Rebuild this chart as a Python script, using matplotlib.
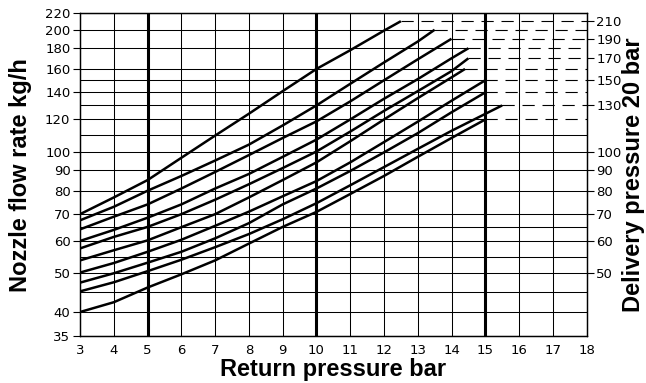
import matplotlib

matplotlib.use("Agg")

import matplotlib.pyplot as plt
from matplotlib.ticker import FixedLocator, NullLocator

# return pressure (bar) at each reading, and nozzle flow rate (kg/h) per curve
x_pts = [3, 4, 5, 6, 7, 8, 9, 10, 11, 12, 13, 14]
curves = [
    [70.0, 77.0, 85.0, 96.5, 109.5, 124.0, 141.0, 160.0, 178.0, 199.0],
    [67.6, 73.0, 80.0, 87.0, 95.0, 104.0, 116.0, 130.0, 147.0, 166.0, 187.0],
    [64.2, 69.0, 74.0, 81.0, 89.0, 98.0, 108.0, 118.7, 133.0, 150.0, 169.0],
    [60.1, 64.0, 68.6, 74.0, 81.0, 88.0, 97.0, 107.0, 120.0, 135.0, 151.0, 170.0],
    [57.6, 61.5, 65.1, 70.0, 76.0, 83.0, 91.0, 100.0, 112.0, 126.0, 141.0, 158.0],
    [53.8, 57.0, 60.3, 65.0, 70.0, 77.0, 85.0, 94.0, 106.0, 120.0, 135.5, 152.5],
    [50.2, 53.0, 56.5, 60.5, 65.5, 71.0, 77.5, 84.5, 94.0, 105.5, 118.5, 133.5],
    [47.4, 50.0, 53.1, 56.5, 61.0, 66.5, 74.0, 81.0, 89.5, 99.5, 111.0, 125.0],
    [45.1, 47.5, 50.6, 54.0, 58.0, 62.5, 68.0, 74.5, 82.5, 91.5, 101.5, 112.5],
    [40.1, 42.4, 46.1, 49.7, 53.8, 59.2, 65.1, 70.9, 78.5, 87.0, 97.0, 108.0],
]
# end point of each curve (x, flow) -> carried dashed to the right axis
end_x = [12.5, 13.5, 14.0, 14.5, 14.5, 14.4, 15.0, 15.0, 15.5, 15.0]
end_y = [210, 200, 190, 180, 170, 160, 150, 140, 130, 120]

left_ticks = [35, 40, 50, 60, 70, 80, 90, 100, 120, 140, 160, 180, 200, 220]
right_ticks = [50, 60, 70, 80, 90, 100, 130, 150, 170, 190, 210]
grid_y = [35, 40, 45, 50, 55, 60, 65, 70, 80, 90, 100, 110, 120, 130, 140,
          150, 160, 180, 200, 220]

fig, ax = plt.subplots(figsize=(6.46, 3.83), dpi=100)
fig.subplots_adjust(left=0.124, right=0.908, top=0.966, bottom=0.123)
ax.set_yscale("log")
ax.set_xlim(3, 18)
ax.set_ylim(35, 220)

# horizontal grid; a curve end takes over with a dashed line to the right
for g in grid_y:
    stop = 18
    if g in end_y:
        stop = end_x[end_y.index(g)]
    ax.plot([3, stop], [g, g], color="black", lw=0.75, zorder=1)

for xv in range(4, 18):
    lw = 2.2 if xv in (5, 10, 15) else 0.75
    ax.axvline(xv, color="black", lw=lw, zorder=1)

for ys, ex, ey in zip(curves, end_x, end_y):
    xs = [x for x in x_pts[:len(ys)] if x < ex] + [ex]
    ax.plot(xs, ys[:len(xs) - 1] + [ey], color="black", lw=1.8,
            solid_capstyle="butt", zorder=3)
    ax.plot([ex, 18], [ey, ey], color="black", lw=0.8, dashes=(11, 7), zorder=2)

tick_font = dict(family="DejaVu Sans", size=9.5)
ax.xaxis.set_major_locator(FixedLocator(range(3, 19)))
ax.set_xticklabels([str(v) for v in range(3, 19)], **tick_font)
ax.yaxis.set_major_locator(FixedLocator(left_ticks))
ax.yaxis.set_minor_locator(NullLocator())
ax.set_yticklabels([str(v) for v in left_ticks], **tick_font)
ax.tick_params(axis="y", length=5, width=0.8, pad=2)
ax.tick_params(axis="x", length=0, pad=6)

ax2 = ax.twinx()
ax2.set_yscale("log")
ax2.set_ylim(35, 220)
ax2.yaxis.set_major_locator(FixedLocator(right_ticks))
ax2.yaxis.set_minor_locator(NullLocator())
ax2.set_yticklabels([str(v) for v in right_ticks], **tick_font)
ax2.tick_params(axis="y", length=5, width=0.8, pad=2)

for a in (ax, ax2):
    for s in a.spines.values():
        s.set_linewidth(0.9)

label_font = dict(family="Liberation Sans", size=17, fontweight="bold")
fig.text(0.516, 0.005, "Return pressure bar", ha="center", va="bottom", **label_font)
fig.text(0.031, 0.544, "Nozzle flow rate kg/h", rotation=90,
         ha="center", va="center", **label_font)
fig.text(0.999, 0.544, "Delivery pressure 20 bar", rotation=90,
         ha="right", va="center", **label_font)

fig.savefig("out.png", dpi=100)
